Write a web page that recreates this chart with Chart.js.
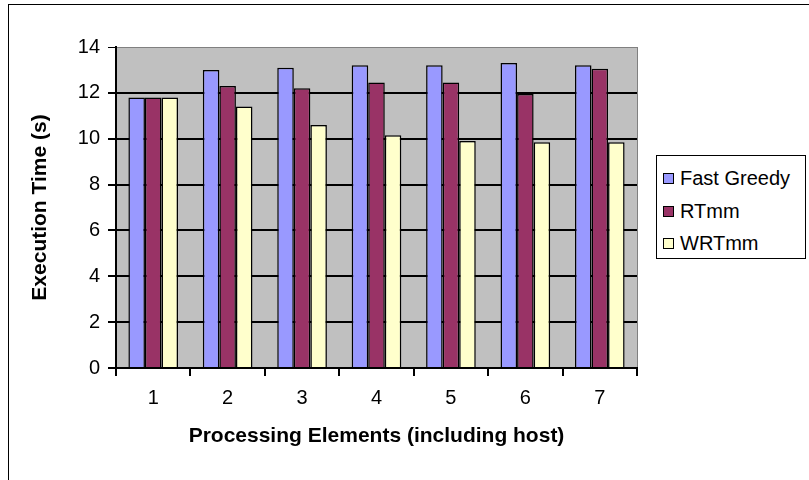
<!DOCTYPE html>
<html>
<head>
<meta charset="utf-8">
<script src="https://cdn.jsdelivr.net/npm/chart.js@4"></script>
<style>
  html, body { margin: 0; padding: 0; background: #fff; }
  #wrap { position: relative; width: 809px; height: 480px; overflow: hidden; }
  #frame {
    position: absolute; left: 8px; top: 4px; width: 900px; height: 600px;
    border-left: 1px solid #000; border-top: 1px solid #000;
  }
  #legend {
    position: absolute; left: 656px; top: 155px; width: 148px; height: 102px;
    border: 1px solid #000; background: #fff;
    font-family: "Liberation Sans", Arial, sans-serif; font-size: 20px; color: #000;
  }
  .item { position: absolute; left: 6px; height: 24px; line-height: 24px; white-space: nowrap; }
  .swatch {
    display: inline-block; width: 9px; height: 9px; border: 1px solid #000;
    margin-right: 6px; vertical-align: 1px;
  }
</style>
</head>
<body>
<div id="wrap">
  <div id="frame"></div>
  <canvas id="chart" width="809" height="480"></canvas>
  <div id="legend"></div>
</div>
<script>
// 데이터
const categories = ["1", "2", "3", "4", "5", "6", "7"];
const seriesNames = ["Fast Greedy", "RTmm", "WRTmm"];
const seriesColors = ["#9999ff", "#993366", "#ffffcc"];
const fastGreedy = [11.8, 13.0, 13.1, 13.2, 13.2, 13.3, 13.2];
const rtmm = [11.8, 12.3, 12.2, 12.45, 12.45, 11.95, 13.05];
const wrtmm = [11.8, 11.4, 10.6, 10.15, 9.9, 9.85, 9.85];
const yTicks = [0, 2, 4, 6, 8, 10, 12, 14];

const seriesValues = [fastGreedy, rtmm, wrtmm];

// 범례 (HTML)
const legendEl = document.getElementById("legend");
seriesNames.forEach((name, i) => {
  const item = document.createElement("div");
  item.className = "item";
  item.style.top = (10 + i * 32.5) + "px";
  item.innerHTML = '<span class="swatch" style="background:' + seriesColors[i] + '"></span>' + name;
  legendEl.appendChild(item);
});

const plotBackground = {
  id: "plotBackground",
  beforeDraw(chart) {
    const { ctx, chartArea: a } = chart;
    ctx.save();
    ctx.fillStyle = "#c0c0c0";
    ctx.fillRect(a.left, a.top, a.right - a.left, a.bottom - a.top);
    ctx.strokeStyle = "#808080";
    ctx.lineWidth = 1;
    ctx.beginPath();
    ctx.moveTo(Math.round(a.right) + 0.5, a.top);
    ctx.lineTo(Math.round(a.right) + 0.5, a.bottom);
    ctx.stroke();
    ctx.restore();
  },
};

const tickFont = { family: "'Liberation Sans', Arial, sans-serif", size: 20 };
const titleFont = { family: "'Liberation Sans', Arial, sans-serif", size: 21, weight: "bold" };

new Chart(document.getElementById("chart").getContext("2d"), {
  type: "bar",
  data: {
    labels: categories,
    datasets: seriesNames.map((name, i) => ({
      label: name,
      data: seriesValues[i],
      backgroundColor: seriesColors[i],
      borderColor: "#000",
      borderWidth: 1.5,
      categoryPercentage: 0.667,
      barPercentage: 1,
    })),
  },
  options: {
    responsive: false,
    animation: false,
    layout: { padding: { left: 8, top: 47, right: 172, bottom: 0 } },
    plugins: { legend: { display: false }, tooltip: { enabled: false } },
    scales: {
      x: {
        afterFit(scale) { scale.height = 112; },
        grid: {
          offset: true,
          drawOnChartArea: false,
          drawTicks: true,
          tickLength: 8,
          color: "#000",
          lineWidth: 2,
        },
        border: { display: true, color: "#000", width: 2 },
        ticks: { color: "#000", font: tickFont, padding: 10 },
        title: {
          display: true,
          text: "Processing Elements (including host)",
          color: "#000",
          font: titleFont,
          padding: { top: 0, bottom: 31 },
        },
      },
      y: {
        min: 0,
        max: 14,
        afterFit(scale) { scale.width = 108; },
        afterBuildTicks(scale) { scale.ticks = yTicks.map((v) => ({ value: v })); },
        grid: {
          color: (c) => (c.tick && c.tick.value === 14 ? "#808080" : "#000"),
          lineWidth: (c) => (c.tick && c.tick.value === 14 ? 1 : 2),
          tickColor: "#000",
          tickLength: 8,
        },
        border: { display: true, color: "#000", width: 2 },
        ticks: { color: "#000", font: tickFont, padding: 8 },
        title: {
          display: true,
          text: "Execution Time (s)",
          color: "#000",
          font: titleFont,
          padding: { top: 20, bottom: 0 },
        },
      },
    },
  },
  plugins: [plotBackground],
});
</script>
</body>
</html>
